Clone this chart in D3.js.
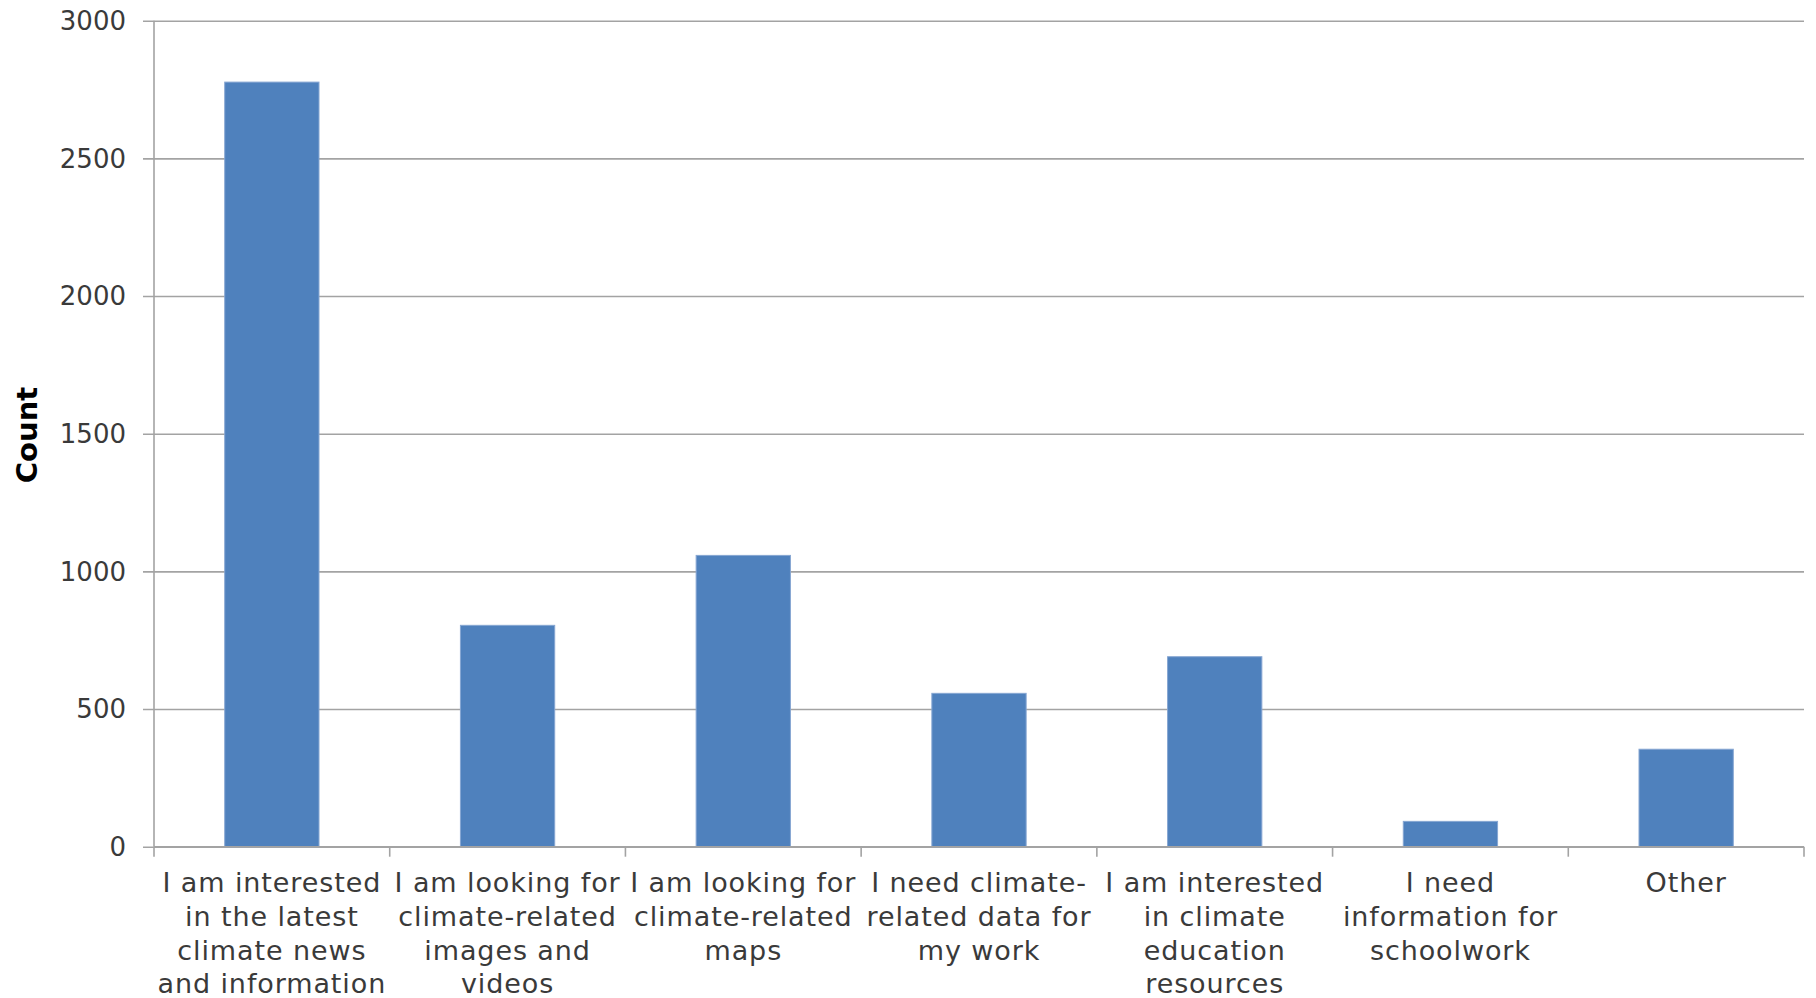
<!DOCTYPE html>
<html>
<head>
<meta charset="utf-8">
<script src="https://cdn.jsdelivr.net/npm/d3@7"></script>
<style>
  html, body { margin: 0; padding: 0; background: #fff; }
  svg { display: block; }
</style>
</head>
<body>
<svg id="chart" width="1816" height="998"></svg>
<script>
const categories = [
  ["I am interested", "in the latest", "climate news", "and information"],
  ["I am looking for", "climate-related", "images and", "videos"],
  ["I am looking for", "climate-related", "maps"],
  ["I need climate-", "related data for", "my work"],
  ["I am interested", "in climate", "education", "resources"],
  ["I need", "information for", "schoolwork"],
  ["Other"]
];
const counts = [2777, 804, 1058, 557, 690, 92, 354];
const yTicks = [0, 500, 1000, 1500, 2000, 2500, 3000];
const yLabel = "Count";

(function () {
const svg = d3.select("#chart");
const mLeft = 154, mRight = 1804, mTop = 20.7, mBottom = 846.7;
const font = "'DejaVu Sans', sans-serif";
const gridColor = "#a3a3a3";
const textColor = "#3a3a3a";

const keys = categories.map((c, i) => i);
const x = d3.scaleBand().domain(keys).range([mLeft, mRight]).paddingInner(0.6).paddingOuter(0.3);
const y = d3.scaleLinear().domain([0, 3000]).range([mBottom, mTop]);
const step = x.step();

// gridlines + y ticks
const yAxis = d3.axisLeft(y).tickValues(yTicks).tickSize(-(mRight - mLeft)).tickPadding(0).tickFormat("");
const gy = svg.append("g").attr("transform", `translate(${mLeft},0)`).call(yAxis);
gy.select(".domain").remove();
gy.selectAll(".tick line").attr("stroke", gridColor).attr("stroke-width", 1.6).attr("x1", -11);

// tick labels
svg.append("g").selectAll("text").data(yTicks).join("text")
  .attr("x", 126).attr("y", d => y(d))
  .attr("dy", "0.36em")
  .attr("text-anchor", "end")
  .attr("font-family", font).attr("font-size", 26)
  .attr("fill", textColor)
  .text(d => d);

// y axis line
svg.append("line").attr("x1", mLeft).attr("x2", mLeft).attr("y1", mTop).attr("y2", mBottom)
  .attr("stroke", gridColor).attr("stroke-width", 1.6);

// bars
svg.append("g").selectAll("rect").data(counts).join("rect")
  .attr("x", (d, i) => x(i))
  .attr("width", x.bandwidth())
  .attr("y", d => y(d))
  .attr("height", d => y(0) - y(d))
  .attr("fill", "#4f81bd")
  .attr("stroke", "#86a6d2").attr("stroke-width", 1);

// x axis line and ticks at category boundaries
svg.append("line").attr("x1", mLeft).attr("x2", mRight).attr("y1", mBottom).attr("y2", mBottom)
  .attr("stroke", gridColor).attr("stroke-width", 1.6);
const boundaries = d3.range(categories.length + 1);
svg.append("g").selectAll("line").data(boundaries).join("line")
  .attr("x1", d => mLeft + d * step).attr("x2", d => mLeft + d * step)
  .attr("y1", mBottom).attr("y2", mBottom + 10)
  .attr("stroke", gridColor).attr("stroke-width", 1.6);

// category labels
const lab = svg.append("g").selectAll("text").data(categories).join("text")
  .attr("x", (d, i) => x(i) + x.bandwidth() / 2)
  .attr("y", 892)
  .attr("text-anchor", "middle")
  .attr("font-family", font).attr("font-size", 27)
  .attr("letter-spacing", 0.9)
  .attr("fill", textColor);
lab.selectAll("tspan").data(d => d).join("tspan")
  .attr("x", function() { return this.parentNode.getAttribute("x"); })
  .attr("dy", (d, j) => j === 0 ? 0 : 33.8)
  .text(d => d);

// y label
svg.append("text")
  .attr("transform", `translate(27,435) rotate(-90)`)
  .attr("dy", "0.36em")
  .attr("text-anchor", "middle")
  .attr("font-family", font).attr("font-size", 29).attr("font-weight", "bold")
  .attr("fill", "#000")
  .text(yLabel);
})();
</script>
</body>
</html>
